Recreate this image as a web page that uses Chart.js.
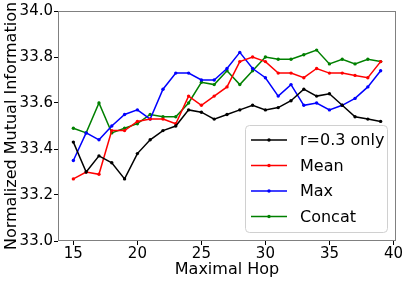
<!DOCTYPE html>
<html>
<head>
<meta charset="utf-8">
<script src="https://cdn.jsdelivr.net/npm/chart.js@4"></script>
<style>
  html, body { margin: 0; padding: 0; background: #fff; }
  #wrap { width: 407px; height: 283px; }
</style>
</head>
<body>
<div id="wrap"><canvas id="chart" width="407" height="283"></canvas></div>
<script>
const hops = [15, 16, 17, 18, 19, 20, 21, 22, 23, 24, 25, 26, 27, 28, 29, 30, 31, 32, 33, 34, 35, 36, 37, 38, 39];
const rOnly = [33.43, 33.30, 33.37, 33.34, 33.27, 33.38, 33.44, 33.48, 33.50, 33.57, 33.56, 33.53, 33.55, 33.57, 33.59, 33.57, 33.58, 33.61, 33.66, 33.63, 33.64, 33.59, 33.54, 33.53, 33.52];
const meanVals = [33.27, 33.30, 33.29, 33.48, 33.48, 33.52, 33.53, 33.53, 33.51, 33.63, 33.59, 33.63, 33.67, 33.78, 33.80, 33.78, 33.73, 33.73, 33.71, 33.75, 33.73, 33.73, 33.72, 33.71, 33.78];
const maxVals = [33.35, 33.47, 33.44, 33.50, 33.55, 33.57, 33.53, 33.66, 33.73, 33.73, 33.70, 33.70, 33.75, 33.82, 33.75, 33.71, 33.63, 33.68, 33.59, 33.60, 33.57, 33.59, 33.62, 33.67, 33.74];
const concatVals = [33.49, 33.47, 33.60, 33.47, 33.49, 33.51, 33.55, 33.54, 33.54, 33.60, 33.69, 33.68, 33.74, 33.68, 33.74, 33.80, 33.79, 33.79, 33.81, 33.83, 33.77, 33.79, 33.77, 33.79, 33.78];
const xTicks = [15, 20, 25, 30, 35, 40];
const yTicks = [33.0, 33.2, 33.4, 33.6, 33.8, 34.0];

const FONT = 'DejaVu Sans';

function series(label, vals, color) {
  return {
    label: label,
    data: hops.map((h, i) => ({ x: h, y: vals[i] })),
    borderColor: color,
    backgroundColor: color,
    borderWidth: 1.5,
    pointRadius: 1.7,
    pointBorderWidth: 0,
    pointHoverRadius: 1.7,
    tension: 0
  };
}

// box round the plot area
const frame = {
  id: 'frame',
  afterDatasetsDraw(chart) {
    const a = chart.chartArea, ctx = chart.ctx;
    ctx.save();
    ctx.strokeStyle = '#808080';
    ctx.lineWidth = 1;
    ctx.strokeRect(Math.round(a.left) + 0.5, Math.round(a.top) + 0.5,
      Math.round(a.right - a.left) - 1, Math.round(a.bottom - a.top) - 1);
    ctx.restore();
  }
};

// matplotlib-like legend in the lower right corner
const boxLegend = {
  id: 'boxLegend',
  afterDatasetsDraw(chart) {
    const a = chart.chartArea, ctx = chart.ctx;
    const w = 142, h = 107;
    const x0 = a.right - 9 - w, y0 = a.bottom - 9 - h;
    ctx.save();
    ctx.fillStyle = 'rgba(255,255,255,0.85)';
    ctx.strokeStyle = '#d0d0d0';
    ctx.lineWidth = 1;
    ctx.beginPath();
    ctx.roundRect(x0 + 0.5, y0 + 0.5, w, h, 4);
    ctx.fill();
    ctx.stroke();
    ctx.font = '16px "' + FONT + '"';
    ctx.textBaseline = 'middle';
    chart.data.datasets.forEach((ds, i) => {
      const yy = y0 + 15 + i * 25.5;
      ctx.strokeStyle = ds.borderColor;
      ctx.lineWidth = ds.borderWidth;
      ctx.beginPath();
      ctx.moveTo(x0 + 6, yy);
      ctx.lineTo(x0 + 42, yy);
      ctx.stroke();
      ctx.fillStyle = ds.borderColor;
      ctx.beginPath();
      ctx.arc(x0 + 24, yy, 1.7, 0, Math.PI * 2);
      ctx.fill();
      ctx.fillStyle = '#000';
      ctx.fillText(ds.label, x0 + 55, yy + 1);
    });
    ctx.restore();
  }
};

new Chart(document.getElementById('chart'), {
  type: 'line',
  data: {
    datasets: [
      series('r=0.3 only', rOnly, '#000000'),
      series('Mean', meanVals, '#ff0000'),
      series('Max', maxVals, '#0000ff'),
      series('Concat', concatVals, '#008000')
    ]
  },
  options: {
    responsive: false,
    animation: false,
    layout: { padding: { top: 11, right: 11, left: 0, bottom: 0 } },
    plugins: { legend: { display: false }, tooltip: { enabled: false } },
    scales: {
      x: {
        type: 'linear',
        min: 13.8,
        max: 40.2,
        afterBuildTicks: s => { s.ticks = xTicks.map(v => ({ value: v })); },
        afterFit: s => { s.height = 42; },
        grid: { display: true, drawOnChartArea: false, tickLength: 4, color: '#000' },
        border: { display: false },
        ticks: { color: '#000', padding: 0, maxRotation: 0, font: { family: FONT, size: 15 } },
        title: { display: true, text: 'Maximal Hop', color: '#000', font: { family: FONT, size: 16 }, padding: { top: 0, bottom: 4 } }
      },
      y: {
        min: 33.0,
        max: 34.0,
        afterBuildTicks: s => { s.ticks = yTicks.map(v => ({ value: v })); },
        afterFit: s => { s.width = 58; },
        grid: { display: true, drawOnChartArea: false, tickLength: 4, color: '#000' },
        border: { display: false },
        ticks: { color: '#000', padding: 1, font: { family: FONT, size: 15 }, callback: v => v.toFixed(1) },
        title: { display: true, text: 'Normalized Mutual Information', color: '#000', font: { family: FONT, size: 16 }, padding: { top: 2, bottom: 0 } }
      }
    }
  },
  plugins: [frame, boxLegend]
});
</script>
</body>
</html>
